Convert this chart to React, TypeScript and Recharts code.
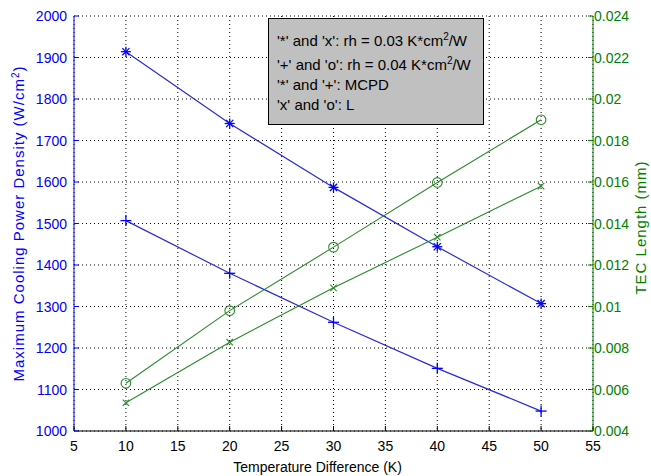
import { ComposedChart, Line, XAxis, YAxis, CartesianGrid, Label } from "recharts";

const temps = [10, 20, 30, 40, 50];
// MCPD, W/cm^2 (left axis)
const mcpdRh003 = [1914, 1741, 1587, 1444, 1307];
const mcpdRh004 = [1507, 1380, 1262, 1151, 1048];
// TEC length, mm (right axis)
const lenRh003 = [0.00536, 0.00828, 0.0109, 0.01334, 0.0158];
const lenRh004 = [0.0063, 0.0098, 0.01286, 0.01598, 0.019];

const xTicks = [5, 10, 15, 20, 25, 30, 35, 40, 45, 50, 55];
const leftTicks = [1000, 1100, 1200, 1300, 1400, 1500, 1600, 1700, 1800, 1900, 2000];
const rightTicks = [0.004, 0.006, 0.008, 0.01, 0.012, 0.014, 0.016, 0.018, 0.02, 0.022, 0.024];

const data = temps.map((t, i) => ({
  t,
  mcpd03: mcpdRh003[i],
  mcpd04: mcpdRh004[i],
  len03: lenRh003[i],
  len04: lenRh004[i],
}));

const FONT = "'Liberation Sans', Arial, sans-serif";
const BLUE = "#0000ff";
const BLUE_LINE = "#2a2ad4";
const GREEN = "#008000";
const GREEN_LINE = "#2a8a2a";

const BottomTick = ({ x, y, payload }: any) => (
  <g>
    <line x1={x} x2={x} y1={y} y2={y - 5} stroke="#000" />
    <text x={x} y={y + 20} textAnchor="middle" fontSize={14} fontFamily={FONT} fill="#000">
      {payload.value}
    </text>
  </g>
);

const TopTick = ({ x, y }: any) => <line x1={x} x2={x} y1={y} y2={y + 5} stroke="#000" />;

const LeftTick = ({ x, y, payload }: any) => (
  <g>
    <line x1={x} x2={x + 5} y1={y} y2={y} stroke={BLUE} />
    <text x={x - 7} y={y + 5} textAnchor="end" fontSize={14} fontFamily={FONT} fill={BLUE}>
      {payload.value}
    </text>
  </g>
);

const RightTick = ({ x, y, payload }: any) => (
  <g>
    <line x1={x} x2={x - 5} y1={y} y2={y} stroke={GREEN} />
    <text x={x + 1} y={y + 5} textAnchor="start" fontSize={14} fontFamily={FONT} fill={GREEN}>
      {String(payload.value)}
    </text>
  </g>
);

// markers
const StarDot = ({ cx, cy }: any) => {
  const r = 5;
  const d = r * 0.72;
  return (
    <g stroke={BLUE} strokeWidth={1.3}>
      <line x1={cx - r} x2={cx + r} y1={cy} y2={cy} />
      <line x1={cx} x2={cx} y1={cy - r} y2={cy + r} />
      <line x1={cx - d} x2={cx + d} y1={cy - d} y2={cy + d} />
      <line x1={cx - d} x2={cx + d} y1={cy + d} y2={cy - d} />
    </g>
  );
};

const PlusDot = ({ cx, cy }: any) => {
  const r = 5.5;
  return (
    <g stroke={BLUE} strokeWidth={1.3}>
      <line x1={cx - r} x2={cx + r} y1={cy} y2={cy} />
      <line x1={cx} x2={cx} y1={cy - r} y2={cy + r} />
    </g>
  );
};

const CircleDot = ({ cx, cy }: any) => (
  <circle cx={cx} cy={cy} r={4.8} fill="none" stroke={GREEN_LINE} strokeWidth={1.1} />
);

const CrossDot = ({ cx, cy }: any) => {
  const r = 3.2;
  return (
    <g stroke={GREEN_LINE} strokeWidth={1.1}>
      <line x1={cx - r} x2={cx + r} y1={cy - r} y2={cy + r} />
      <line x1={cx - r} x2={cx + r} y1={cy + r} y2={cy - r} />
    </g>
  );
};

const BottomLabel = ({ viewBox }: any) => (
  <text
    x={viewBox.x + viewBox.width / 2 - 16}
    y={viewBox.y + 41}
    textAnchor="middle"
    fontSize={14}
    fontFamily={FONT}
    fill="#000"
  >
    Temperature Difference (K)
  </text>
);

const LeftLabel = ({ viewBox }: any) => {
  const cx = viewBox.x + 24;
  const cy = viewBox.y + viewBox.height / 2;
  return (
    <text
      x={cx}
      y={cy}
      transform={`rotate(-90 ${cx} ${cy})`}
      textAnchor="middle"
      fontSize={15}
      letterSpacing={1}
      fontFamily={FONT}
      fill={BLUE}
    >
      Maximum Cooling Power Density (W/cm
      <tspan dy={-5} fontSize={10}>2</tspan>
      <tspan dy={5}>)</tspan>
    </text>
  );
};

const RightLabel = ({ viewBox }: any) => {
  const cx = viewBox.x + 53;
  const cy = viewBox.y + viewBox.height / 2 + 4;
  return (
    <text
      x={cx}
      y={cy}
      transform={`rotate(-90 ${cx} ${cy})`}
      textAnchor="middle"
      fontSize={15}
      letterSpacing={1}
      fontFamily={FONT}
      fill={GREEN}
    >
      TEC Length (mm)
    </text>
  );
};

const legendLine = { height: 20, lineHeight: "20px", whiteSpace: "nowrap" as const };

export default function App() {
  return (
    <div style={{ position: "absolute", left: 0, top: 0, width: 651, height: 476, background: "#fff" }}>
      <ComposedChart
        width={651}
        height={476}
        data={data}
        margin={{ top: 16, right: 0, left: 0, bottom: 0 }}
      >
        <CartesianGrid
          yAxisId="left"
          stroke="#000"
          strokeDasharray="1 3"
          horizontalValues={leftTicks}
          verticalValues={xTicks}
        />
        <XAxis
          dataKey="t"
          type="number"
          domain={[5, 55]}
          ticks={xTicks}
          height={45}
          tickSize={0}
          tickMargin={0}
          tickLine={false}
          axisLine={{ stroke: "#000" }}
          tick={<BottomTick />}
          interval={0}
        >
          <Label content={<BottomLabel />} />
        </XAxis>
        <XAxis
          xAxisId="top"
          orientation="top"
          dataKey="t"
          type="number"
          domain={[5, 55]}
          ticks={xTicks}
          height={0}
          tickSize={0}
          tickMargin={0}
          tickLine={false}
          axisLine={{ stroke: "#000" }}
          tick={<TopTick />}
          interval={0}
        />
        <YAxis
          yAxisId="left"
          type="number"
          domain={[1000, 2000]}
          ticks={leftTicks}
          width={74}
          tickSize={0}
          tickMargin={0}
          tickLine={false}
          axisLine={{ stroke: BLUE }}
          tick={<LeftTick />}
          interval={0}
        >
          <Label content={<LeftLabel />} />
        </YAxis>
        <YAxis
          yAxisId="right"
          orientation="right"
          type="number"
          domain={[0.004, 0.024]}
          ticks={rightTicks}
          width={58}
          tickSize={0}
          tickMargin={0}
          tickLine={false}
          axisLine={{ stroke: GREEN }}
          tick={<RightTick />}
          interval={0}
        >
          <Label content={<RightLabel />} />
        </YAxis>
        <Line
          yAxisId="left"
          dataKey="mcpd03"
          stroke={BLUE_LINE}
          strokeWidth={1.2}
          dot={<StarDot />}
          activeDot={false}
          isAnimationActive={false}
        />
        <Line
          yAxisId="left"
          dataKey="mcpd04"
          stroke={BLUE_LINE}
          strokeWidth={1.2}
          dot={<PlusDot />}
          activeDot={false}
          isAnimationActive={false}
        />
        <Line
          yAxisId="right"
          dataKey="len03"
          stroke={GREEN_LINE}
          strokeWidth={1.1}
          dot={<CrossDot />}
          activeDot={false}
          isAnimationActive={false}
        />
        <Line
          yAxisId="right"
          dataKey="len04"
          stroke={GREEN_LINE}
          strokeWidth={1.1}
          dot={<CircleDot />}
          activeDot={false}
          isAnimationActive={false}
        />
      </ComposedChart>
      <div
        style={{
          position: "absolute",
          left: 268,
          top: 18,
          width: 216,
          height: 107,
          boxSizing: "border-box",
          background: "#c0c0c0",
          border: "1px solid #000",
          padding: "12px 0 0 8px",
          fontFamily: FONT,
          fontSize: 15,
          color: "#000",
        }}
      >
        <div style={legendLine}>
          '*' and 'x': rh = 0.03 K*cm<sup style={{ fontSize: 10, lineHeight: 0 }}>2</sup>/W
        </div>
        <div style={{ ...legendLine, marginTop: 4 }}>
          '+' and 'o': rh = 0.04 K*cm<sup style={{ fontSize: 10, lineHeight: 0 }}>2</sup>/W
        </div>
        <div style={legendLine}>'*' and '+': MCPD</div>
        <div style={legendLine}>'x' and 'o': L</div>
      </div>
    </div>
  );
}
